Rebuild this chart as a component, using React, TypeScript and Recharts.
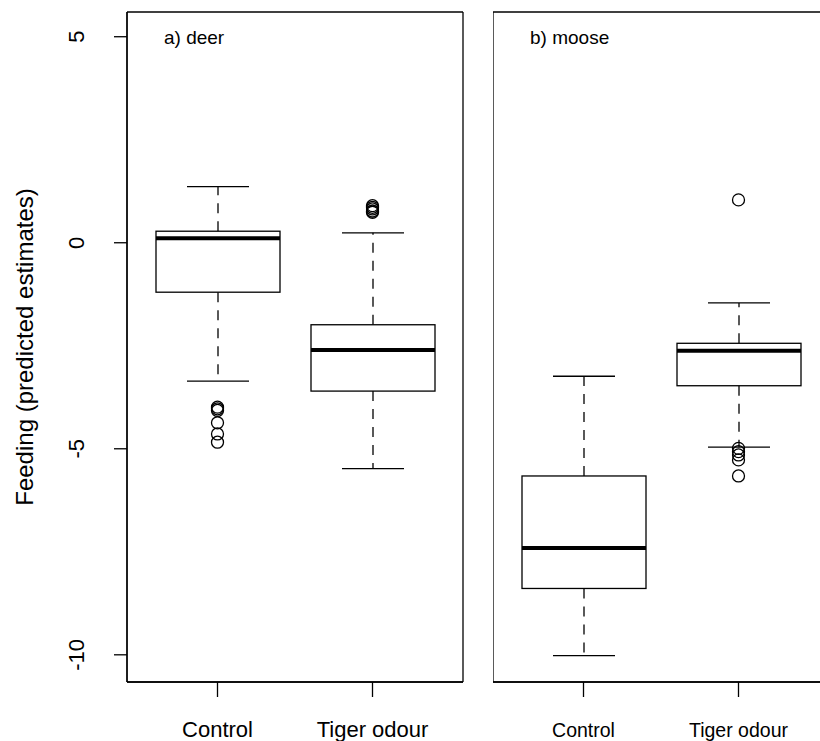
import React from "react";
import { Bar, CartesianGrid, ComposedChart, Scatter, XAxis, YAxis } from "recharts";

const categories = ["Control", "Tiger odour"];

const deerMin = [-3.36, -5.48];
const deerQ1 = [-1.2, -3.6];
const deerMedian = [0.11, -2.6];
const deerQ3 = [0.28, -1.99];
const deerMax = [1.36, 0.24];
const deerOutliers = [
  [-3.99, -4.03, -4.07, -4.37, -4.64, -4.84],
  [0.9, 0.86, 0.82, 0.77, 0.74],
];

const mooseMin = [-10.02, -4.96];
const mooseQ1 = [-8.39, -3.47];
const mooseMedian = [-7.41, -2.62];
const mooseQ3 = [-5.66, -2.44];
const mooseMax = [-3.24, -1.46];
const mooseOutliers = [[], [1.04, -4.99, -5.07, -5.15, -5.27, -5.66]];

const yTicks = [-10, -5, 0, 5];
const yDomain = [-10.66, 5.6];

const FONT = '"Liberation Sans", Arial, Helvetica, sans-serif';

function boxRows(mins, q1s, meds, q3s, maxs) {
  return categories.map((name, i) => ({
    name,
    min: mins[i],
    q1: q1s[i],
    median: meds[i],
    q3: q3s[i],
    max: maxs[i],
  }));
}

function outlierRows(lists) {
  return lists.flatMap((vals, i) => vals.map((value) => ({ name: categories[i], value })));
}

const deerRows = boxRows(deerMin, deerQ1, deerMedian, deerQ3, deerMax);
const mooseRows = boxRows(mooseMin, mooseQ1, mooseMedian, mooseQ3, mooseMax);
const deerPoints = outlierRows(deerOutliers);
const moosePoints = outlierRows(mooseOutliers);

// box + whiskers, positions taken from the range bar (min..max) the library laid out
function BoxShape(props) {
  const { x, y, width, height, payload } = props;
  const top = Math.min(y, y + height);
  const bot = Math.max(y, y + height);
  const px = (v) => top + ((payload.max - v) / (payload.max - payload.min)) * (bot - top);
  const cx = x + width / 2;
  const cap = width / 4;
  const line = { stroke: "#000", strokeWidth: 1.3 };
  return (
    <g>
      <line x1={cx} x2={cx} y1={px(payload.q3)} y2={px(payload.max)} {...line} strokeDasharray="10 8" />
      <line x1={cx} x2={cx} y1={px(payload.q1)} y2={px(payload.min)} {...line} strokeDasharray="10 8" />
      <line x1={cx - cap} x2={cx + cap} y1={px(payload.max)} y2={px(payload.max)} {...line} />
      <line x1={cx - cap} x2={cx + cap} y1={px(payload.min)} y2={px(payload.min)} {...line} />
      <rect
        x={x}
        y={px(payload.q3)}
        width={width}
        height={px(payload.q1) - px(payload.q3)}
        fill="#fff"
        {...line}
      />
      <line x1={x} x2={x + width} y1={px(payload.median)} y2={px(payload.median)} stroke="#000" strokeWidth={4} />
    </g>
  );
}

function OutlierShape(props) {
  return <circle cx={props.cx} cy={props.cy} r={6} fill="none" stroke="#000" strokeWidth={1.3} />;
}

function makeXTick(size) {
  return function XTick(props) {
    const { x, payload } = props;
    return (
      <text x={x} y={737} textAnchor="middle" fontSize={size} fontFamily={FONT} fill="#000">
        {payload.value}
      </text>
    );
  };
}

function YTick(props) {
  const { y, payload } = props;
  return (
    <text
      x={84}
      y={y}
      textAnchor="middle"
      fontSize={22}
      fontFamily={FONT}
      fill="#000"
      transform={`rotate(-90, 84, ${y})`}
    >
      {payload.value}
    </text>
  );
}

// frame around the plot area, like R's box()
const frameRows = ({ offset }) => [offset.top, offset.top + offset.height];
const frameCols = ({ offset }) => [offset.left, offset.left + offset.width];

function Panel({ rows, points, left, title, labelSize, showY }) {
  const yWidth = showY ? 127 : 0;
  const chartWidth = yWidth + 336 + 17;
  return (
    <div style={{ position: "absolute", left, top: 0 }}>
      <ComposedChart width={chartWidth} height={741} data={rows} margin={{ top: 12, right: 17, bottom: 0, left: 0 }}>
        <CartesianGrid
          stroke="#000"
          strokeWidth={1.3}
          horizontalCoordinatesGenerator={frameRows}
          verticalCoordinatesGenerator={frameCols}
        />
        <XAxis
          dataKey="name"
          allowDuplicatedCategory={false}
          height={59}
          padding={{ left: 13, right: 13 }}
          tickSize={15}
          tickLine={{ stroke: "#000", strokeWidth: 1.3 }}
          axisLine={{ stroke: "#000", strokeWidth: 1.3 }}
          tick={makeXTick(labelSize)}
          interval={0}
        />
        <YAxis
          type="number"
          domain={yDomain}
          allowDataOverflow
          ticks={showY ? yTicks : []}
          width={yWidth}
          tickSize={13}
          tickLine={showY ? { stroke: "#000", strokeWidth: 1.3 } : false}
          tick={showY ? YTick : false}
          axisLine={{ stroke: "#000", strokeWidth: 1.3 }}
          label={
            showY
              ? () => (
                  <text
                    x={33}
                    y={347}
                    textAnchor="middle"
                    fontSize={24}
                    fontFamily={FONT}
                    fill="#000"
                    transform="rotate(-90, 33, 347)"
                  >
                    Feeding (predicted estimates)
                  </text>
                )
              : undefined
          }
        />
        <Bar
          dataKey={(d) => [d.min, d.max]}
          barSize={124}
          shape={BoxShape}
          isAnimationActive={false}
        />
        <Scatter data={points} dataKey="value" shape={OutlierShape} isAnimationActive={false} />
      </ComposedChart>
      <div
        style={{
          position: "absolute",
          left: yWidth + 37,
          top: 28,
          fontSize: 19,
          fontFamily: FONT,
          lineHeight: "19px",
          whiteSpace: "nowrap",
        }}
      >
        {title}
      </div>
    </div>
  );
}

export default function App() {
  return (
    <div
      style={{
        position: "absolute",
        left: 0,
        top: 0,
        width: 820,
        height: 741,
        overflow: "hidden",
        background: "#fff",
      }}
    >
      <Panel rows={deerRows} points={deerPoints} left={0} title="a) deer" labelSize={22} showY />
      <Panel rows={mooseRows} points={moosePoints} left={493} title="b) moose" labelSize={19.5} showY={false} />
    </div>
  );
}
